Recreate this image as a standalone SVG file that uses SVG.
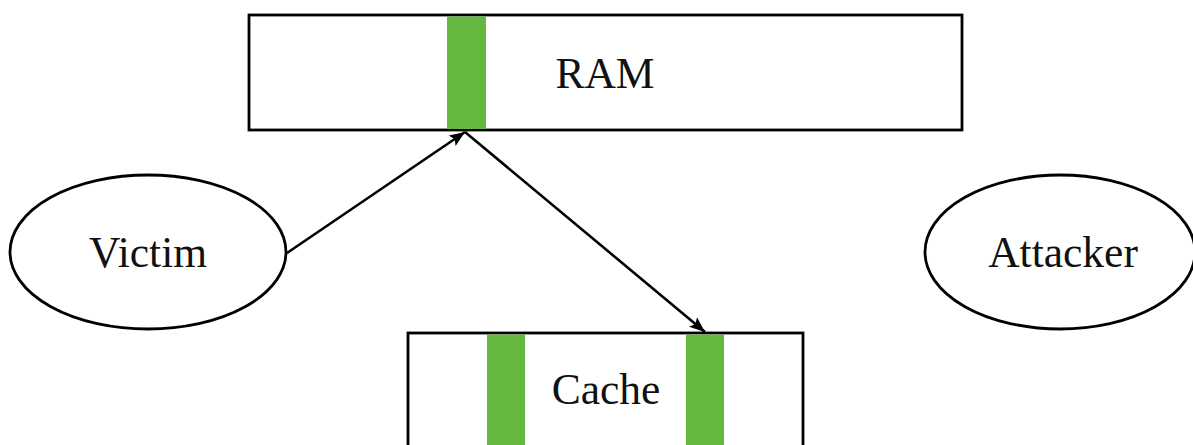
<svg xmlns="http://www.w3.org/2000/svg" width="1193" height="445" viewBox="0 0 1193 445">
<style>
.box{fill:#fff;stroke:#000;stroke-width:2.8}
.bar{fill:#64b83f}
.lbl{font-family:"Liberation Serif","DejaVu Serif",serif;font-size:43.5px;text-anchor:middle;fill:#111}
.edge{stroke:#000;stroke-width:2.6;fill:none;marker-end:url(#ah)}
</style>
<defs>
<marker id="ah" viewBox="0 0 10 8" refX="10" refY="4" markerWidth="6" markerHeight="5" orient="auto" markerUnits="strokeWidth">
<path d="M0,0 L10,4 L0,8 L2,4 Z" fill="#000"/>
</marker>
</defs>
<g id="ram">
<rect class="box" x="249" y="15" width="713" height="115"/>
<rect class="bar" x="447" y="16.5" width="39" height="112.5"/>
<text class="lbl" x="605" y="88">RAM</text>
</g>
<g id="victim">
<ellipse class="box" cx="148" cy="252" rx="138" ry="77"/>
<text class="lbl" x="148" y="267">Victim</text>
</g>
<g id="attacker">
<ellipse class="box" cx="1060" cy="252" rx="135" ry="77"/>
<text class="lbl" x="1063" y="267">Attacker</text>
</g>
<g id="cache">
<rect class="box" x="408" y="333" width="395" height="130"/>
<rect class="bar" x="487" y="334.5" width="38" height="112"/>
<rect class="bar" x="686" y="334.5" width="38" height="112"/>
<text class="lbl" x="606" y="404">Cache</text>
</g>
<g id="connectors">
<path class="edge" d="M287,253 L465,132"/>
<path class="edge" d="M465,132 L705,332"/>
</g>
</svg>
